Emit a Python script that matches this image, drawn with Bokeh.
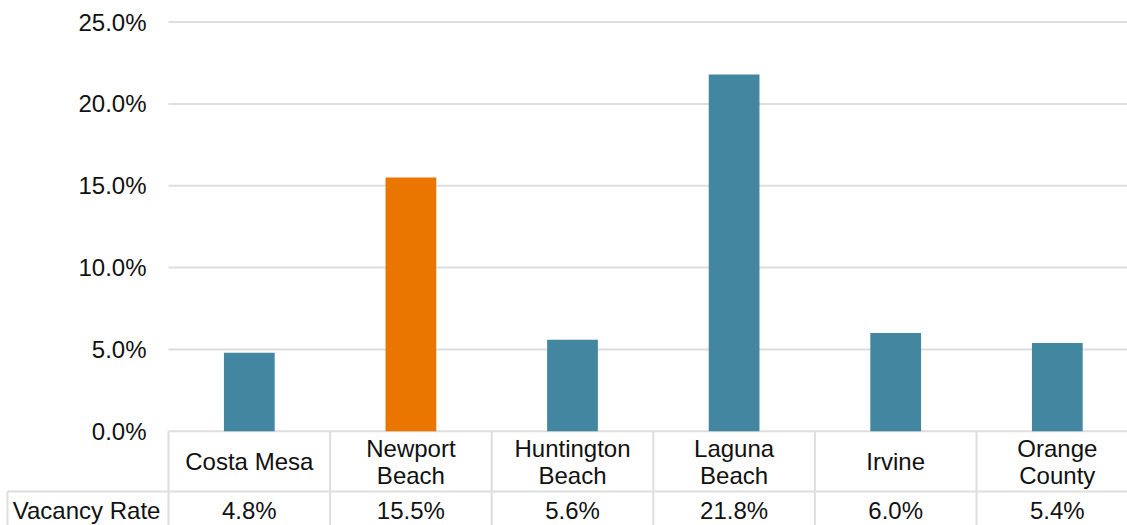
from bokeh.plotting import figure
from bokeh.models import Range1d, ColumnDataSource
from bokeh.core.properties import value
from bokeh.embed import file_html
from bokeh.resources import INLINE

# ---- data ----
categories = ["Costa Mesa", "Newport Beach", "Huntington Beach", "Laguna Beach", "Irvine", "Orange County"]
category_labels = ["Costa Mesa", "Newport\nBeach", "Huntington\nBeach", "Laguna\nBeach", "Irvine", "Orange\nCounty"]
vacancy_rate = [4.8, 15.5, 5.6, 21.8, 6.0, 5.4]
highlight = "Newport Beach"
y_ticks = [0, 5, 10, 15, 20, 25]
y_tick_labels = ["0.0%", "5.0%", "10.0%", "15.0%", "20.0%", "25.0%"]
row_title = "Vacancy Rate"

# ---- style ----
TEAL = "#43869F"
ORANGE = "#EA7600"
GRID = "#DEDEDE"
FONT = "Liberation Sans"
FS = "24px"
TXT = "#111111"

W, H = 1127, 525
n = len(categories)
x0, x1 = -1.0396, 5.9344
y0, y1 = -5.754, 26.316

p = figure(width=W, height=H, output_backend="svg", toolbar_location=None,
           x_range=Range1d(x0, x1), y_range=Range1d(y0, y1),
           min_border=0, min_border_left=0, min_border_right=0,
           min_border_top=0, min_border_bottom=0)
p.axis.visible = False
p.grid.visible = False
p.outline_line_color = None
p.background_fill_color = "white"
p.border_fill_color = "white"

# gridlines (value axis)
p.segment(x0=[0] * len(y_ticks), x1=[n] * len(y_ticks), y0=y_ticks, y1=y_ticks,
          line_color=GRID, line_width=2)

# value axis labels
p.text(x=[-0.136] * len(y_ticks), y=y_ticks, text=y_tick_labels,
       text_font=value(FONT), text_font_size=FS, text_color=TXT,
       text_align="right", text_baseline="middle")

# bars
centers = [i + 0.5 for i in range(n)]
colors = [ORANGE if c == highlight else TEAL for c in categories]
src = ColumnDataSource(dict(x=centers, top=vacancy_rate, color=colors))
p.vbar(x="x", top="top", bottom=0, width=0.314, fill_color="color", line_color=None, source=src)

# data table below
row_line = -3.68
left_edge = -0.9963
p.segment(x0=[left_edge], x1=[n], y0=[row_line], y1=[row_line], line_color=GRID, line_width=2)
p.segment(x0=list(range(n + 1)), x1=list(range(n + 1)), y0=[0] * (n + 1), y1=[y0 - 1] * (n + 1),
          line_color=GRID, line_width=2)
p.segment(x0=[left_edge], x1=[left_edge], y0=[row_line], y1=[y0 - 1], line_color=GRID, line_width=2)

p.text(x=centers, y=[-1.845] * n, text=category_labels,
       text_font=value(FONT), text_font_size=FS, text_color=TXT,
       text_align="center", text_baseline="middle", text_line_height=1.0)
p.text(x=centers, y=[-4.84] * n, text=[f"{v:.1f}%" for v in vacancy_rate],
       text_font=value(FONT), text_font_size=FS, text_color=TXT,
       text_align="center", text_baseline="middle")
p.text(x=[-0.05], y=[-4.84], text=[row_title],
       text_font=value(FONT), text_font_size=FS, text_color=TXT,
       text_align="right", text_baseline="middle")

open("out.html", "w").write(file_html(p, INLINE))
